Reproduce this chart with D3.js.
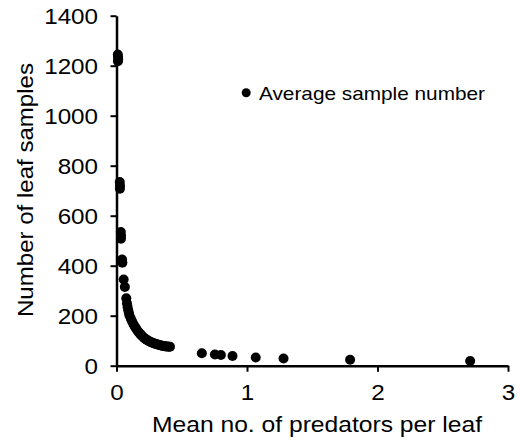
<!DOCTYPE html>
<html>
<head>
<meta charset="utf-8">
<script src="https://cdn.jsdelivr.net/npm/d3@7"></script>
<style>
  body { margin: 0; background: #fff; }
  text { font-family: "Liberation Sans", Arial, sans-serif; fill: #000; }
</style>
</head>
<body>
<div id="chart"></div>
<script>
// mean predators per leaf (x) and number of leaf samples (y)
var meanPredators = [0.010, 0.012, 0.013, 0.011,
  0.025, 0.027, 0.026,
  0.033, 0.035, 0.034,
  0.043, 0.045,
  0.055, 0.064,
  0.075, 0.08, 0.085, 0.09, 0.095, 0.10, 0.11, 0.12, 0.13, 0.14,
  0.15, 0.16, 0.17, 0.18, 0.19, 0.20, 0.21, 0.22, 0.23, 0.24,
  0.25, 0.26, 0.27, 0.28, 0.29, 0.30, 0.31, 0.32, 0.33, 0.34,
  0.35, 0.36, 0.37, 0.38, 0.39, 0.40, 0.41,
  0.654, 0.754, 0.80, 0.889, 1.067, 1.28, 1.79, 2.71];
var leafSamples = [1245, 1235, 1225, 1218,
  735, 720, 708,
  535, 520, 508,
  425, 412,
  345, 315,
  270, 250, 235, 222, 211, 200, 188, 177, 166, 157,
  149, 141, 134, 128, 122, 117, 112, 108, 104, 101,
  98, 95, 93, 91, 89, 87, 86, 84, 83, 81,
  80, 79, 78, 77, 77, 76, 76,
  50, 45, 43, 39, 33, 29, 24, 19];
var xTicks = [0, 1, 2, 3];
var yTicks = [0, 200, 400, 600, 800, 1000, 1200, 1400];
var seriesName = "Average sample number";

var svgWidth = 520;
var svgHeight = 446;
var margin = { top: 15.7, left: 116.5 };
var width = 391.5;
var height = 350;

var svg = d3.select("#chart")
  .append("svg")
  .attr("width", svgWidth)
  .attr("height", svgHeight);

var chartGroup = svg.append("g")
  .attr("transform", `translate(${margin.left}, ${margin.top})`);

var xScale = d3.scaleLinear().domain([0, 3]).range([0, width]);
var yScale = d3.scaleLinear().domain([0, 1400]).range([height, 0]);

var xAxis = chartGroup.append("g")
  .attr("transform", `translate(0, ${height})`)
  .call(d3.axisBottom(xScale).tickValues(xTicks).tickSize(6).tickSizeOuter(0).tickFormat(d3.format("d")));

var yAxis = chartGroup.append("g")
  .call(d3.axisLeft(yScale).tickValues(yTicks).tickSize(6).tickSizeOuter(0).tickFormat(d3.format("d")));

[xAxis, yAxis].forEach(function(ax) {
  ax.select(".domain").attr("stroke", "#000").attr("stroke-width", 2.5);
  ax.selectAll(".tick line").attr("stroke", "#000").attr("stroke-width", 2);
  ax.selectAll(".tick text")
    .attr("font-size", "22px")
    .attr("font-family", "Liberation Sans, Arial, sans-serif")
    .attr("fill", "#000");
});

// slightly wide lettering, like the original
xAxis.selectAll(".tick text")
  .attr("dy", null)
  .attr("y", 34)
  .attr("transform", "scale(1.1,1)");
yAxis.selectAll(".tick text")
  .attr("dy", "0.36em")
  .attr("x", -18.5 / 1.1)
  .attr("transform", "scale(1.1,1)");

var points = meanPredators.map((m, i) => ({ m: m, n: leafSamples[i] }));

chartGroup.selectAll(".dot")
  .data(points)
  .enter()
  .append("circle")
  .attr("class", "dot")
  .attr("cx", d => xScale(d.m))
  .attr("cy", d => yScale(d.n))
  .attr("r", 5)
  .attr("fill", "#000");

// legend
var legend = svg.append("g").attr("transform", "translate(246.2, 92.7)");
legend.append("circle").attr("r", 4.5).attr("fill", "#000");
legend.append("text")
  .attr("x", 12.8)
  .attr("y", 7.3)
  .attr("font-size", "18.5px")
  .attr("textLength", 226)
  .attr("lengthAdjust", "spacingAndGlyphs")
  .text(seriesName);

// axis titles
svg.append("text")
  .attr("x", 152)
  .attr("y", 431.7)
  .attr("font-size", "22px")
  .attr("textLength", 330)
  .attr("lengthAdjust", "spacingAndGlyphs")
  .text("Mean no. of predators per leaf");

svg.append("text")
  .attr("transform", "translate(33, 317) rotate(-90)")
  .attr("font-size", "22px")
  .attr("textLength", 254)
  .attr("lengthAdjust", "spacingAndGlyphs")
  .text("Number of leaf samples");
</script>
</body>
</html>
